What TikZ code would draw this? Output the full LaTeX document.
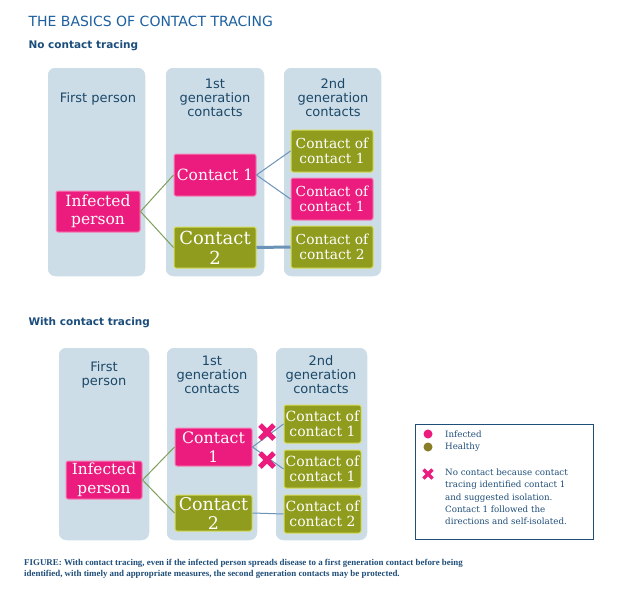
\documentclass[tikz,border=0pt]{standalone}
\usepackage{fontspec}
\usepackage{tikz}
\setmainfont{DejaVu Serif}
\setsansfont{DejaVu Sans}
\newfontfamily\capfont{Liberation Serif}
\definecolor{titleBlue}{RGB}{29, 96, 160}
\definecolor{subBlue}{RGB}{27, 78, 124}
\definecolor{labelBlue}{RGB}{28, 72, 104}
\definecolor{colBg}{RGB}{204, 221, 232}
\definecolor{infPink}{RGB}{236, 28, 126}
\definecolor{okOlive}{RGB}{143, 156, 30}
\definecolor{legOlive}{RGB}{138, 125, 40}
\definecolor{linkGreen}{RGB}{125, 160, 90}
\definecolor{linkBlue}{RGB}{107, 147, 184}
\definecolor{boxBlue}{RGB}{31, 78, 121}
\newcommand{\fsz}[2]{\fontsize{#1}{#2}\selectfont}
\usetikzlibrary{calc}

\begin{document}
\begin{tikzpicture}[x=1pt, y=-1pt,
    column/.style={fill=colBg, draw=white, line width=1.5pt, rounded corners=8pt, inner sep=0pt},
    collabel/.style={font=\sffamily\fsz{13}{14}, text=labelBlue, align=center},
    infected/.style={fill=infPink, draw=infPink!55!white, line width=1pt, rounded corners=2pt,
        text=white, align=center, inner sep=0pt},
    healthy/.style={fill=okOlive, draw=okOlive!50!yellow!70!white, line width=1pt, rounded corners=2pt,
        text=white, align=center, inner sep=0pt},
    greenlink/.style={linkGreen, line width=1pt},
    bluelink/.style={linkBlue, line width=1pt},
    cross/.style={infPink, line width=5pt}
  ]
  \useasboundingbox[fill=white] (0,0) rectangle (624,605);

  % Headings
  \node[anchor=west, font=\sffamily\fsz{14}{16}, text=titleBlue] (title) at (25,21) {THE BASICS OF CONTACT TRACING};
  \node[anchor=west, font=\sffamily\bfseries\fsz{10.5}{12}, text=subBlue] (subtop) at (25,46) {No contact tracing};
  \node[anchor=west, font=\sffamily\bfseries\fsz{10.5}{12}, text=subBlue] (subbot) at (25,323) {With contact tracing};

  % No contact tracing
  \node[column, minimum width=99pt, minimum height=210pt] (tcolA) at (96.5,172) {};
  \node[column, minimum width=100pt, minimum height=210pt] (tcolB) at (215,172) {};
  \node[column, minimum width=99pt, minimum height=210pt] (tcolC) at (332.5,172) {};
  \node[collabel] (tlabA) at (98,99) {First person};
  \node[collabel] (tlabB) at (215,98) {1st\\generation\\contacts};
  \node[collabel] (tlabC) at (333,98) {2nd\\generation\\contacts};

  \node[infected, minimum width=84pt, minimum height=41pt, font=\fsz{15.5}{18}] (tinf) at (98,211.5) {Infected\\person};
  \node[infected, minimum width=82pt, minimum height=42pt, font=\fsz{15.5}{18}] (tcA) at (215,175) {Contact 1};
  \node[healthy, minimum width=82pt, minimum height=41pt, font=\fsz{18}{20}] (tcB) at (215,247.5) {Contact\\2};
  \node[healthy, minimum width=82pt, minimum height=42pt, font=\fsz{13.8}{15}] (tccA) at (332,151) {Contact of\\contact 1};
  \node[infected, minimum width=82pt, minimum height=42pt, font=\fsz{13.8}{15}] (tccB) at (332,199) {Contact of\\contact 1};
  \node[healthy, minimum width=82pt, minimum height=42pt, font=\fsz{13.8}{15}] (tccC) at (332,247) {Contact of\\contact 2};

  \draw[greenlink] (tinf.east) -- (tcA.west);
  \draw[greenlink] (tinf.east) -- (tcB.west);
  \draw[bluelink] (tcA.east) -- (tccA.west);
  \draw[bluelink] (tcA.east) -- (tccB.west);
  \draw[bluelink, line width=3pt] (tcB.east) -- (tccC.west);

  % With contact tracing
  \node[column, minimum width=92pt, minimum height=194pt] (bcolA) at (104,444) {};
  \node[column, minimum width=92pt, minimum height=194pt] (bcolB) at (212,444) {};
  \node[column, minimum width=93pt, minimum height=194pt] (bcolC) at (321.5,444) {};
  \node[collabel] (blabA) at (104,375) {First\\person};
  \node[collabel] (blabB) at (212,375) {1st\\generation\\contacts};
  \node[collabel] (blabC) at (321,375) {2nd\\generation\\contacts};

  \node[infected, minimum width=76pt, minimum height=38pt, font=\fsz{15.3}{19}] (binf) at (104,480) {Infected\\person};
  \node[infected, minimum width=77pt, minimum height=38pt, font=\fsz{15.8}{19}] (bcA) at (213.5,447) {Contact\\1};
  \node[healthy, minimum width=77pt, minimum height=36pt, font=\fsz{17.5}{19}] (bcB) at (213.5,513) {Contact\\2};
  \node[healthy, minimum width=77pt, minimum height=38pt, font=\fsz{14}{15}] (bccA) at (322.5,424) {Contact of\\contact 1};
  \node[healthy, minimum width=77pt, minimum height=38pt, font=\fsz{14}{15}] (bccB) at (322.5,469) {Contact of\\contact 1};
  \node[healthy, minimum width=77pt, minimum height=38pt, font=\fsz{14}{15}] (bccC) at (322.5,514) {Contact of\\contact 2};

  \draw[greenlink] (binf.east) -- (bcA.west);
  \draw[greenlink] (binf.east) -- (bcB.west);
  \draw[bluelink] (bcA.east) -- (bccA.west);
  \draw[bluelink] (bcA.east) -- (bccB.west);
  \draw[bluelink] (bcB.east) -- (bccC.west);

  % Crosses
  \coordinate (xA) at (267,432);
  \coordinate (xB) at (267,460);
  \foreach \c in {xA,xB} {
    \draw[cross] ($(\c)+(-7,-7)$) -- ($(\c)+(7,7)$);
    \draw[cross] ($(\c)+(-7,7)$) -- ($(\c)+(7,-7)$);
  }

  % Legend
  \node[draw=boxBlue, line width=1pt, minimum width=178pt, minimum height=115pt, inner sep=0pt] (legend) at (504,481.5) {};
  \fill[infPink] (428,434) circle (4.5pt);
  \fill[legOlive] (428,447) circle (4.5pt);
  \coordinate (xL) at (428,474);
  \draw[infPink, line width=3.5pt] ($(xL)+(-4.5,-4.5)$) -- ($(xL)+(4.5,4.5)$);
  \draw[infPink, line width=3.5pt] ($(xL)+(-4.5,4.5)$) -- ($(xL)+(4.5,-4.5)$);
  \node[anchor=west, font=\fsz{8.7}{12}, text=boxBlue, inner sep=0pt] (legInf) at (445,434) {Infected};
  \node[anchor=west, font=\fsz{8.7}{12}, text=boxBlue, inner sep=0pt] (legOk) at (445,447) {Healthy};
  \node[anchor=north west, align=left, font=\fsz{8.7}{12.1}, text=boxBlue, inner sep=0pt] (legX) at (445,469)
    {No contact because contact\\tracing identified contact 1\\and suggested isolation.\\Contact 1 followed the\\directions and self-isolated.};

  % Caption
  \node[anchor=west, align=left, font=\capfont\bfseries\fsz{8.9}{11.2}, text=boxBlue, inner sep=0pt] (caption) at (24,568.5)
    {FIGURE: With contact tracing, even if the infected person spreads disease to a first generation contact before being\\
     identified, with timely and appropriate measures, the second generation contacts may be protected.};
\end{tikzpicture}
\end{document}
